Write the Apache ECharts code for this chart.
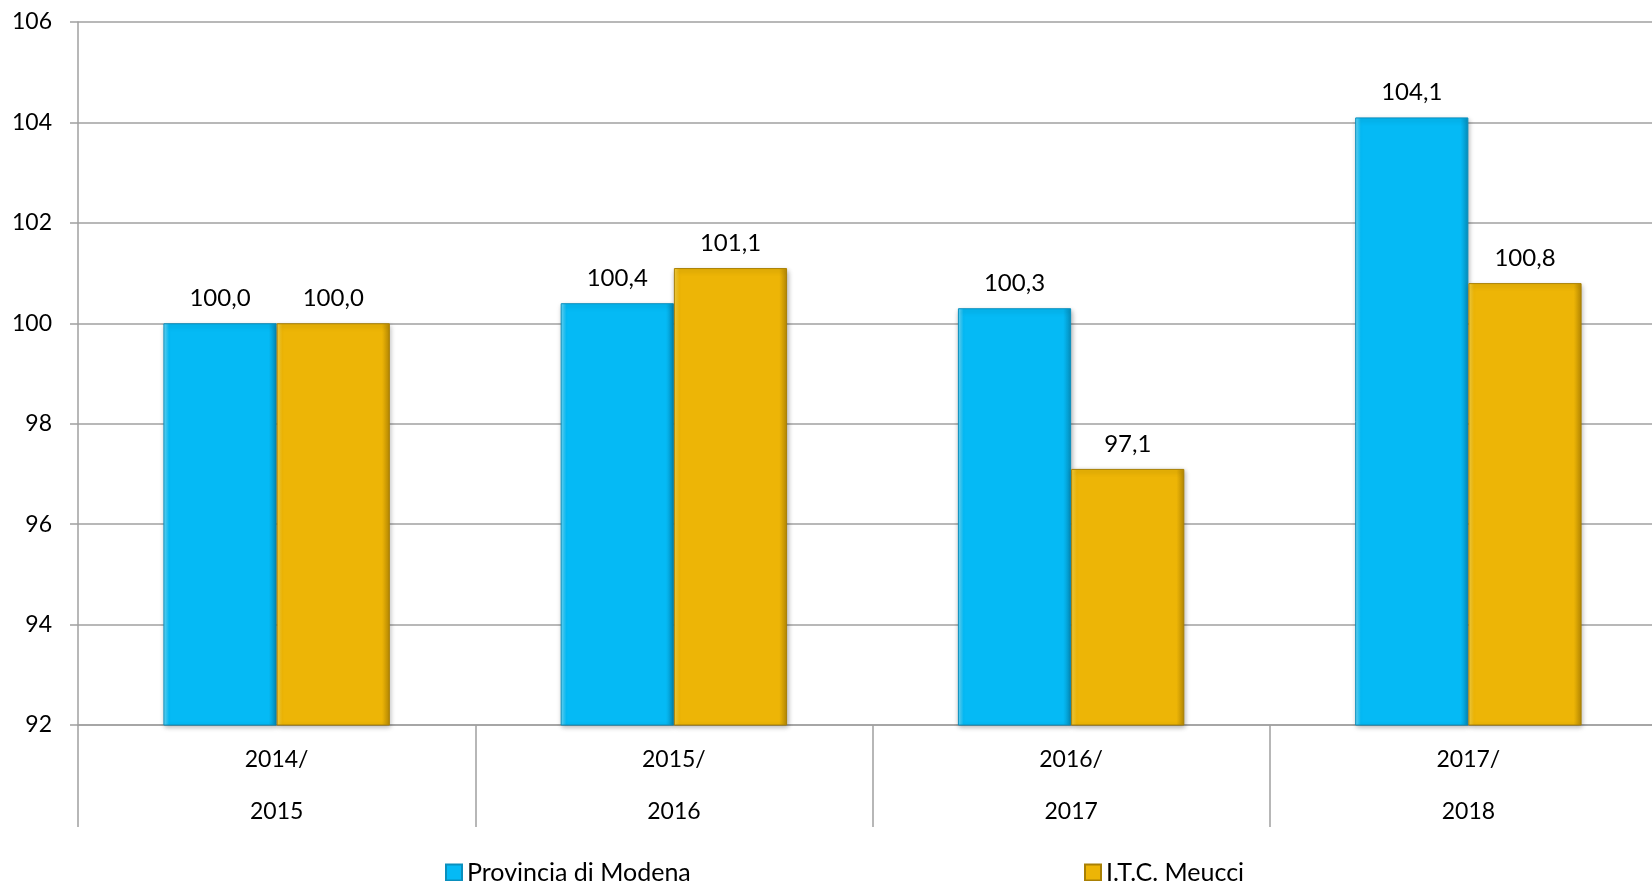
<!DOCTYPE html>
<html>
<head>
<meta charset="utf-8">
<script src="https://cdn.jsdelivr.net/npm/echarts@6/dist/echarts.min.js"></script>
<style>html,body{margin:0;padding:0;background:#fff;overflow:hidden;width:1652px;height:881px}#c{width:1667px;height:881px}</style>
</head>
<body>
<div id="c"></div>
<script>
var categories = ['2014/\n2015', '2015/\n2016', '2016/\n2017', '2017/\n2018'];
var seriesNames = ['Provincia di Modena', 'I.T.C. Meucci'];
var provinciaValues = [100.0, 100.4, 100.3, 104.1];
var meucciValues = [100.0, 101.1, 97.1, 100.8];
var yTicks = {min: 92, max: 106, interval: 2};

var FONT = 'Lato, "Open Sans", sans-serif';
function bevel(light, base, dark) {
  return new echarts.graphic.LinearGradient(0, 0, 1, 0, [
    {offset: 0, color: light},
    {offset: 0.05, color: base},
    {offset: 0.93, color: base},
    {offset: 1, color: dark}
  ]);
}
var chart = echarts.init(document.getElementById('c'));
var labelCfg = {
  show: true, position: 'top', distance: 13, color: '#000',
  fontFamily: FONT, fontSize: 24,
  formatter: function (p) { return p.value.toFixed(1).replace('.', ','); }
};
var legendText = {fontFamily: FONT, fontSize: 25, color: '#000'};
chart.setOption({
  animation: false,
  grid: {left: 78, right: 0, top: 22, bottom: 156, containLabel: false},
  legend: [
    {data: [seriesNames[0]], left: 440, top: 855, itemWidth: 16, itemHeight: 16, itemGap: 6,
     textStyle: legendText, icon: 'rect'},
    {data: [seriesNames[1]], left: 1079, top: 855, itemWidth: 16, itemHeight: 16, itemGap: 6,
     textStyle: legendText, icon: 'rect'}
  ],
  xAxis: {
    type: 'category', data: categories, boundaryGap: true,
    axisLine: {show: true, lineStyle: {color: '#a0a0a0', width: 1.5}},
    axisTick: {show: true, length: 102, alignWithLabel: false, lineStyle: {color: '#a0a0a0', width: 1.5}},
    axisLabel: {margin: 9, color: '#000', fontFamily: FONT, fontSize: 23, lineHeight: 52}
  },
  yAxis: {
    type: 'value', min: yTicks.min, max: yTicks.max, interval: yTicks.interval,
    axisLine: {show: true, lineStyle: {color: '#a0a0a0', width: 1.5}},
    axisTick: {show: true, length: 8, lineStyle: {color: '#a0a0a0', width: 1.5}},
    splitLine: {show: true, lineStyle: {color: '#a0a0a0', width: 1.5}},
    axisLabel: {margin: 26, color: '#000', fontFamily: FONT, fontSize: 23}
  },
  series: [
    {name: seriesNames[0], type: 'bar', data: provinciaValues, barWidth: '28.5%', barGap: '0%',
     itemStyle: {color: bevel('#6fdcfb', '#05baf5', '#0690bf'), borderColor: '#0a8fbd', borderWidth: 1,
       shadowColor: 'rgba(0,0,0,0.3)', shadowBlur: 5, shadowOffsetX: 1, shadowOffsetY: 2},
     label: labelCfg},
    {name: seriesNames[1], type: 'bar', data: meucciValues, barWidth: '28.5%', barGap: '0%',
     itemStyle: {color: bevel('#f9d445', '#edb506', '#b88a04'), borderColor: '#a98004', borderWidth: 1,
       shadowColor: 'rgba(0,0,0,0.3)', shadowBlur: 5, shadowOffsetX: 1, shadowOffsetY: 2},
     label: labelCfg}
  ]
});
</script>
</body>
</html>
